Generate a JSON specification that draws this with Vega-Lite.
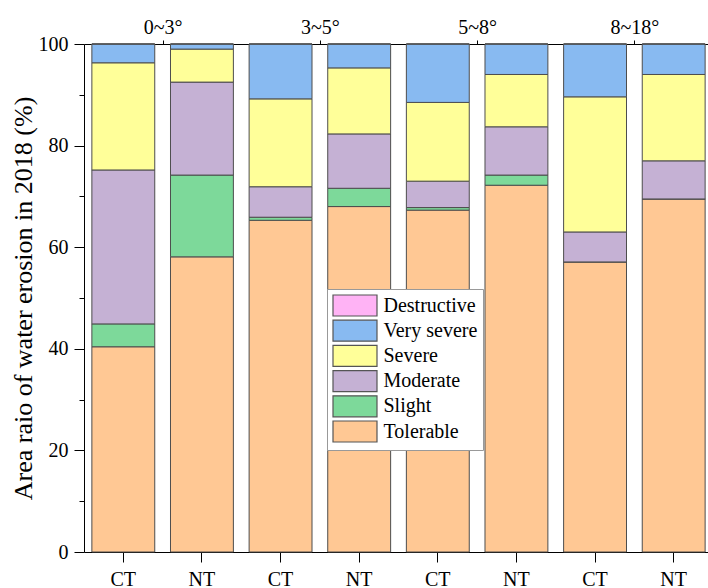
{
  "$schema": "https://vega.github.io/schema/vega-lite/v6.json",
  "width": 629,
  "height": 508,
  "autosize": {"type": "none"},
  "padding": {"left": 84, "top": 44, "right": 0, "bottom": 36},
  "background": "white",
  "config": {
    "font": "Times New Roman, Liberation Serif, DejaVu Serif, serif",
    "view": {"stroke": null},
    "axis": {
      "labelFont": "Times New Roman, Liberation Serif, DejaVu Serif, serif",
      "titleFont": "Times New Roman, Liberation Serif, DejaVu Serif, serif",
      "labelColor": "black",
      "titleColor": "black",
      "domainColor": "black",
      "tickColor": "black",
      "grid": false,
      "titleFontWeight": "normal",
      "labelFontSize": 20
    },
    "legend": {
      "labelFont": "Times New Roman, Liberation Serif, DejaVu Serif, serif"
    }
  },
  "data": {
    "values": [
      {"bar": "0~3° CT", "slope": "0~3°", "till": "CT", "cls": "Tolerable", "value": 40.4},
      {"bar": "0~3° CT", "slope": "0~3°", "till": "CT", "cls": "Slight", "value": 4.5},
      {"bar": "0~3° CT", "slope": "0~3°", "till": "CT", "cls": "Moderate", "value": 30.3},
      {"bar": "0~3° CT", "slope": "0~3°", "till": "CT", "cls": "Severe", "value": 21.1},
      {"bar": "0~3° CT", "slope": "0~3°", "till": "CT", "cls": "Very severe", "value": 3.7},
      {"bar": "0~3° CT", "slope": "0~3°", "till": "CT", "cls": "Destructive", "value": 0},
      {"bar": "0~3° NT", "slope": "0~3°", "till": "NT", "cls": "Tolerable", "value": 58.1},
      {"bar": "0~3° NT", "slope": "0~3°", "till": "NT", "cls": "Slight", "value": 16.1},
      {"bar": "0~3° NT", "slope": "0~3°", "till": "NT", "cls": "Moderate", "value": 18.3},
      {"bar": "0~3° NT", "slope": "0~3°", "till": "NT", "cls": "Severe", "value": 6.5},
      {"bar": "0~3° NT", "slope": "0~3°", "till": "NT", "cls": "Very severe", "value": 1.0},
      {"bar": "0~3° NT", "slope": "0~3°", "till": "NT", "cls": "Destructive", "value": 0},
      {"bar": "3~5° CT", "slope": "3~5°", "till": "CT", "cls": "Tolerable", "value": 65.3},
      {"bar": "3~5° CT", "slope": "3~5°", "till": "CT", "cls": "Slight", "value": 0.6},
      {"bar": "3~5° CT", "slope": "3~5°", "till": "CT", "cls": "Moderate", "value": 6.0},
      {"bar": "3~5° CT", "slope": "3~5°", "till": "CT", "cls": "Severe", "value": 17.3},
      {"bar": "3~5° CT", "slope": "3~5°", "till": "CT", "cls": "Very severe", "value": 10.8},
      {"bar": "3~5° CT", "slope": "3~5°", "till": "CT", "cls": "Destructive", "value": 0},
      {"bar": "3~5° NT", "slope": "3~5°", "till": "NT", "cls": "Tolerable", "value": 68.0},
      {"bar": "3~5° NT", "slope": "3~5°", "till": "NT", "cls": "Slight", "value": 3.6},
      {"bar": "3~5° NT", "slope": "3~5°", "till": "NT", "cls": "Moderate", "value": 10.7},
      {"bar": "3~5° NT", "slope": "3~5°", "till": "NT", "cls": "Severe", "value": 13.0},
      {"bar": "3~5° NT", "slope": "3~5°", "till": "NT", "cls": "Very severe", "value": 4.7},
      {"bar": "3~5° NT", "slope": "3~5°", "till": "NT", "cls": "Destructive", "value": 0},
      {"bar": "5~8° CT", "slope": "5~8°", "till": "CT", "cls": "Tolerable", "value": 67.3},
      {"bar": "5~8° CT", "slope": "5~8°", "till": "CT", "cls": "Slight", "value": 0.5},
      {"bar": "5~8° CT", "slope": "5~8°", "till": "CT", "cls": "Moderate", "value": 5.2},
      {"bar": "5~8° CT", "slope": "5~8°", "till": "CT", "cls": "Severe", "value": 15.5},
      {"bar": "5~8° CT", "slope": "5~8°", "till": "CT", "cls": "Very severe", "value": 11.5},
      {"bar": "5~8° CT", "slope": "5~8°", "till": "CT", "cls": "Destructive", "value": 0},
      {"bar": "5~8° NT", "slope": "5~8°", "till": "NT", "cls": "Tolerable", "value": 72.2},
      {"bar": "5~8° NT", "slope": "5~8°", "till": "NT", "cls": "Slight", "value": 2.0},
      {"bar": "5~8° NT", "slope": "5~8°", "till": "NT", "cls": "Moderate", "value": 9.5},
      {"bar": "5~8° NT", "slope": "5~8°", "till": "NT", "cls": "Severe", "value": 10.3},
      {"bar": "5~8° NT", "slope": "5~8°", "till": "NT", "cls": "Very severe", "value": 6.0},
      {"bar": "5~8° NT", "slope": "5~8°", "till": "NT", "cls": "Destructive", "value": 0},
      {"bar": "8~18° CT", "slope": "8~18°", "till": "CT", "cls": "Tolerable", "value": 57.1},
      {"bar": "8~18° CT", "slope": "8~18°", "till": "CT", "cls": "Slight", "value": 0},
      {"bar": "8~18° CT", "slope": "8~18°", "till": "CT", "cls": "Moderate", "value": 5.9},
      {"bar": "8~18° CT", "slope": "8~18°", "till": "CT", "cls": "Severe", "value": 26.6},
      {"bar": "8~18° CT", "slope": "8~18°", "till": "CT", "cls": "Very severe", "value": 10.4},
      {"bar": "8~18° CT", "slope": "8~18°", "till": "CT", "cls": "Destructive", "value": 0},
      {"bar": "8~18° NT", "slope": "8~18°", "till": "NT", "cls": "Tolerable", "value": 69.5},
      {"bar": "8~18° NT", "slope": "8~18°", "till": "NT", "cls": "Slight", "value": 0},
      {"bar": "8~18° NT", "slope": "8~18°", "till": "NT", "cls": "Moderate", "value": 7.5},
      {"bar": "8~18° NT", "slope": "8~18°", "till": "NT", "cls": "Severe", "value": 17.0},
      {"bar": "8~18° NT", "slope": "8~18°", "till": "NT", "cls": "Very severe", "value": 6.0},
      {"bar": "8~18° NT", "slope": "8~18°", "till": "NT", "cls": "Destructive", "value": 0}
    ]
  },
  "layer": [
    {
      "transform": [
        {"calculate": "indexof(['Tolerable','Slight','Moderate','Severe','Very severe','Destructive'], datum.cls)", "as": "k"}
      ],
      "mark": {"type": "bar", "stroke": "#4d4d4d", "strokeWidth": 1},
      "encoding": {
        "x": {
          "field": "bar",
          "type": "nominal",
          "sort": ["0~3° CT", "0~3° NT", "3~5° CT", "3~5° NT", "5~8° CT", "5~8° NT", "8~18° CT", "8~18° NT"],
          "scale": {"paddingInner": 0.2, "paddingOuter": 0.1},
          "axis": {
            "title": null,
            "labelExpr": "split(datum.label, ' ')[1]",
            "labelAngle": 0,
            "labelFontSize": 20,
            "tickSize": 10,
            "labelPadding": 7,
            "domainWidth": 1
          }
        },
        "y": {
          "field": "value",
          "type": "quantitative",
          "stack": "zero",
          "scale": {"domain": [0, 100], "nice": false},
          "axis": {
            "title": "Area raio of water erosion in 2018 (%)",
            "values": [0, 10, 20, 30, 40, 50, 60, 70, 80, 90, 100],
            "labelExpr": "datum.value % 20 === 0 ? datum.label : ''",
            "tickSize": {"condition": {"test": "datum.value % 20 === 0", "value": 10}, "value": 5},
            "labelFontSize": 20,
            "titleFontSize": 26,
            "labelPadding": 6,
            "titlePadding": 2
          }
        },
        "color": {
          "field": "cls",
          "type": "nominal",
          "scale": {
            "domain": ["Destructive", "Very severe", "Severe", "Moderate", "Slight", "Tolerable"],
            "range": ["#FFB3F5", "#88BAF1", "#FFFF99", "#C5B1D4", "#7DD99A", "#FFC894"]
          },
          "legend": {
            "orient": "none",
            "legendX": 243,
            "legendY": 245,
            "title": null,
            "symbolType": "M-1,-1H3.19V1H-1Z",
            "symbolSize": 441,
            "symbolStrokeColor": "#555555",
            "symbolStrokeWidth": 1.2,
            "symbolOpacity": 1,
            "labelFontSize": 20,
            "labelColor": "black",
            "labelOffset": 28.5,
            "rowPadding": -1.8,
            "padding": 5,
            "strokeColor": "#999999",
            "fillColor": "white"
          }
        },
        "order": {"field": "k", "type": "quantitative"}
      }
    },
    {
      "mark": {"type": "point", "opacity": 0},
      "encoding": {
        "x": {
          "field": "slope",
          "type": "nominal",
          "sort": ["0~3°", "3~5°", "5~8°", "8~18°"],
          "scale": {"type": "point", "padding": 0.5},
          "axis": {
            "orient": "top",
            "title": null,
            "labelAngle": 0,
            "labelFontSize": 20,
            "tickSize": 4,
            "labelPadding": 3
          }
        }
      }
    }
  ],
  "resolve": {"scale": {"x": "independent"}, "axis": {"x": "independent"}}
}
